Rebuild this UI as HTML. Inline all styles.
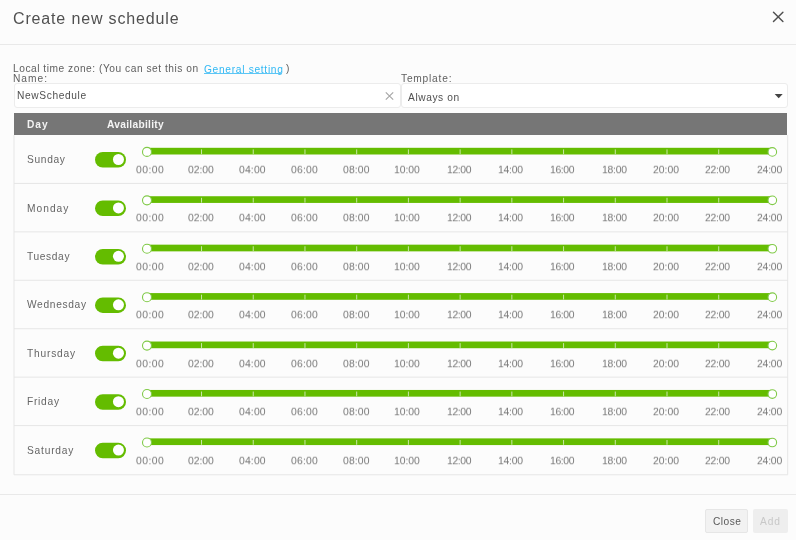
<!DOCTYPE html><html><head><meta charset="utf-8"><style>
*{box-sizing:border-box;margin:0;padding:0}
html,body{width:796px;height:540px;overflow:hidden;background:#fcfcfc;font-family:"Liberation Sans", sans-serif;}
.a{position:absolute;white-space:nowrap;line-height:20px;will-change:transform}
.hr{position:absolute;left:0;width:796px;height:1px;background:#e9e9e9}
.inp{position:absolute;background:#fff;border:1px solid #ececec;border-radius:3px}
.thead{position:absolute;left:14px;top:113px;width:773px;height:22.2px;background:#767676}
.tl{font-size:10px;color:#777;transform:scale(1.04,0.94);transform-origin:0 0}
.btn{position:absolute;height:23px;border-radius:2px}
svg.g{position:absolute;left:0;top:0}
</style></head><body>
<div class="hr" style="top:44px"></div>
<div class="inp" style="left:13.5px;top:83px;width:387px;height:24.5px"></div>
<div class="inp" style="left:401px;top:83px;width:386.5px;height:24.5px"></div>
<div class="thead"></div>
<div class="hr" style="top:494px"></div>
<div class="btn" style="left:705px;width:43.2px;top:509.3px;height:23.3px;background:#f2f2f2;border:1px solid #e6e6e6"></div>
<div class="btn" style="left:752.5px;width:35.2px;top:509.3px;height:23.3px;background:#eeeeee"></div>
<svg class="g" width="796" height="540" viewBox="0 0 796 540">
<path d="M773.5 12.2L782.9 21.6M782.9 12.2L773.5 21.6" stroke="#505050" stroke-width="1.45" stroke-linecap="round" fill="none"/>
<path d="M385.8 92.3L393.2 99.7M393.2 92.3L385.8 99.7" stroke="#a6a6a6" stroke-width="1.15" fill="none"/>
<path d="M774.7 93.9L782.7 93.9L778.7 98.3Z" fill="#444"/>
<path d="M14.0 135V474.8H787.7V135" stroke="#e6e6e6" stroke-width="1" fill="none"/>
<line x1="14.0" y1="183.43" x2="787.7" y2="183.43" stroke="#e6e6e6" stroke-width="1"/>
<line x1="14.0" y1="231.86" x2="787.7" y2="231.86" stroke="#e6e6e6" stroke-width="1"/>
<line x1="14.0" y1="280.29" x2="787.7" y2="280.29" stroke="#e6e6e6" stroke-width="1"/>
<line x1="14.0" y1="328.72" x2="787.7" y2="328.72" stroke="#e6e6e6" stroke-width="1"/>
<line x1="14.0" y1="377.15" x2="787.7" y2="377.15" stroke="#e6e6e6" stroke-width="1"/>
<line x1="14.0" y1="425.58" x2="787.7" y2="425.58" stroke="#e6e6e6" stroke-width="1"/>
<rect x="95" y="152.10" width="31" height="15.5" rx="7.75" fill="#64bc00"/>
<circle cx="118.45" cy="159.50" r="5.5" fill="#fff"/>
<rect x="146.8" y="147.80" width="625.6" height="6.7" fill="#64bc00"/>
<rect x="201.02" y="149.40" width="1" height="4.8" fill="#c8e6a8"/>
<rect x="252.74" y="149.40" width="1" height="4.8" fill="#c8e6a8"/>
<rect x="304.46" y="149.40" width="1" height="4.8" fill="#c8e6a8"/>
<rect x="356.18" y="149.40" width="1" height="4.8" fill="#c8e6a8"/>
<rect x="407.90" y="149.40" width="1" height="4.8" fill="#c8e6a8"/>
<rect x="459.62" y="149.40" width="1" height="4.8" fill="#c8e6a8"/>
<rect x="511.34" y="149.40" width="1" height="4.8" fill="#c8e6a8"/>
<rect x="563.06" y="149.40" width="1" height="4.8" fill="#c8e6a8"/>
<rect x="614.78" y="149.40" width="1" height="4.8" fill="#c8e6a8"/>
<rect x="666.50" y="149.40" width="1" height="4.8" fill="#c8e6a8"/>
<rect x="718.22" y="149.40" width="1" height="4.8" fill="#c8e6a8"/>
<circle cx="147.0" cy="151.90" r="4.5" fill="#fff" stroke="#80ca48" stroke-width="1.1"/>
<circle cx="772.3" cy="151.90" r="4.3" fill="#fff" stroke="#80ca48" stroke-width="1.1"/>
<rect x="95" y="200.53" width="31" height="15.5" rx="7.75" fill="#64bc00"/>
<circle cx="118.45" cy="207.93" r="5.5" fill="#fff"/>
<rect x="146.8" y="196.23" width="625.6" height="6.7" fill="#64bc00"/>
<rect x="201.02" y="197.83" width="1" height="4.8" fill="#c8e6a8"/>
<rect x="252.74" y="197.83" width="1" height="4.8" fill="#c8e6a8"/>
<rect x="304.46" y="197.83" width="1" height="4.8" fill="#c8e6a8"/>
<rect x="356.18" y="197.83" width="1" height="4.8" fill="#c8e6a8"/>
<rect x="407.90" y="197.83" width="1" height="4.8" fill="#c8e6a8"/>
<rect x="459.62" y="197.83" width="1" height="4.8" fill="#c8e6a8"/>
<rect x="511.34" y="197.83" width="1" height="4.8" fill="#c8e6a8"/>
<rect x="563.06" y="197.83" width="1" height="4.8" fill="#c8e6a8"/>
<rect x="614.78" y="197.83" width="1" height="4.8" fill="#c8e6a8"/>
<rect x="666.50" y="197.83" width="1" height="4.8" fill="#c8e6a8"/>
<rect x="718.22" y="197.83" width="1" height="4.8" fill="#c8e6a8"/>
<circle cx="147.0" cy="200.33" r="4.5" fill="#fff" stroke="#80ca48" stroke-width="1.1"/>
<circle cx="772.3" cy="200.33" r="4.3" fill="#fff" stroke="#80ca48" stroke-width="1.1"/>
<rect x="95" y="248.96" width="31" height="15.5" rx="7.75" fill="#64bc00"/>
<circle cx="118.45" cy="256.36" r="5.5" fill="#fff"/>
<rect x="146.8" y="244.66" width="625.6" height="6.7" fill="#64bc00"/>
<rect x="201.02" y="246.26" width="1" height="4.8" fill="#c8e6a8"/>
<rect x="252.74" y="246.26" width="1" height="4.8" fill="#c8e6a8"/>
<rect x="304.46" y="246.26" width="1" height="4.8" fill="#c8e6a8"/>
<rect x="356.18" y="246.26" width="1" height="4.8" fill="#c8e6a8"/>
<rect x="407.90" y="246.26" width="1" height="4.8" fill="#c8e6a8"/>
<rect x="459.62" y="246.26" width="1" height="4.8" fill="#c8e6a8"/>
<rect x="511.34" y="246.26" width="1" height="4.8" fill="#c8e6a8"/>
<rect x="563.06" y="246.26" width="1" height="4.8" fill="#c8e6a8"/>
<rect x="614.78" y="246.26" width="1" height="4.8" fill="#c8e6a8"/>
<rect x="666.50" y="246.26" width="1" height="4.8" fill="#c8e6a8"/>
<rect x="718.22" y="246.26" width="1" height="4.8" fill="#c8e6a8"/>
<circle cx="147.0" cy="248.76" r="4.5" fill="#fff" stroke="#80ca48" stroke-width="1.1"/>
<circle cx="772.3" cy="248.76" r="4.3" fill="#fff" stroke="#80ca48" stroke-width="1.1"/>
<rect x="95" y="297.39" width="31" height="15.5" rx="7.75" fill="#64bc00"/>
<circle cx="118.45" cy="304.79" r="5.5" fill="#fff"/>
<rect x="146.8" y="293.09" width="625.6" height="6.7" fill="#64bc00"/>
<rect x="201.02" y="294.69" width="1" height="4.8" fill="#c8e6a8"/>
<rect x="252.74" y="294.69" width="1" height="4.8" fill="#c8e6a8"/>
<rect x="304.46" y="294.69" width="1" height="4.8" fill="#c8e6a8"/>
<rect x="356.18" y="294.69" width="1" height="4.8" fill="#c8e6a8"/>
<rect x="407.90" y="294.69" width="1" height="4.8" fill="#c8e6a8"/>
<rect x="459.62" y="294.69" width="1" height="4.8" fill="#c8e6a8"/>
<rect x="511.34" y="294.69" width="1" height="4.8" fill="#c8e6a8"/>
<rect x="563.06" y="294.69" width="1" height="4.8" fill="#c8e6a8"/>
<rect x="614.78" y="294.69" width="1" height="4.8" fill="#c8e6a8"/>
<rect x="666.50" y="294.69" width="1" height="4.8" fill="#c8e6a8"/>
<rect x="718.22" y="294.69" width="1" height="4.8" fill="#c8e6a8"/>
<circle cx="147.0" cy="297.19" r="4.5" fill="#fff" stroke="#80ca48" stroke-width="1.1"/>
<circle cx="772.3" cy="297.19" r="4.3" fill="#fff" stroke="#80ca48" stroke-width="1.1"/>
<rect x="95" y="345.82" width="31" height="15.5" rx="7.75" fill="#64bc00"/>
<circle cx="118.45" cy="353.22" r="5.5" fill="#fff"/>
<rect x="146.8" y="341.52" width="625.6" height="6.7" fill="#64bc00"/>
<rect x="201.02" y="343.12" width="1" height="4.8" fill="#c8e6a8"/>
<rect x="252.74" y="343.12" width="1" height="4.8" fill="#c8e6a8"/>
<rect x="304.46" y="343.12" width="1" height="4.8" fill="#c8e6a8"/>
<rect x="356.18" y="343.12" width="1" height="4.8" fill="#c8e6a8"/>
<rect x="407.90" y="343.12" width="1" height="4.8" fill="#c8e6a8"/>
<rect x="459.62" y="343.12" width="1" height="4.8" fill="#c8e6a8"/>
<rect x="511.34" y="343.12" width="1" height="4.8" fill="#c8e6a8"/>
<rect x="563.06" y="343.12" width="1" height="4.8" fill="#c8e6a8"/>
<rect x="614.78" y="343.12" width="1" height="4.8" fill="#c8e6a8"/>
<rect x="666.50" y="343.12" width="1" height="4.8" fill="#c8e6a8"/>
<rect x="718.22" y="343.12" width="1" height="4.8" fill="#c8e6a8"/>
<circle cx="147.0" cy="345.62" r="4.5" fill="#fff" stroke="#80ca48" stroke-width="1.1"/>
<circle cx="772.3" cy="345.62" r="4.3" fill="#fff" stroke="#80ca48" stroke-width="1.1"/>
<rect x="95" y="394.25" width="31" height="15.5" rx="7.75" fill="#64bc00"/>
<circle cx="118.45" cy="401.65" r="5.5" fill="#fff"/>
<rect x="146.8" y="389.95" width="625.6" height="6.7" fill="#64bc00"/>
<rect x="201.02" y="391.55" width="1" height="4.8" fill="#c8e6a8"/>
<rect x="252.74" y="391.55" width="1" height="4.8" fill="#c8e6a8"/>
<rect x="304.46" y="391.55" width="1" height="4.8" fill="#c8e6a8"/>
<rect x="356.18" y="391.55" width="1" height="4.8" fill="#c8e6a8"/>
<rect x="407.90" y="391.55" width="1" height="4.8" fill="#c8e6a8"/>
<rect x="459.62" y="391.55" width="1" height="4.8" fill="#c8e6a8"/>
<rect x="511.34" y="391.55" width="1" height="4.8" fill="#c8e6a8"/>
<rect x="563.06" y="391.55" width="1" height="4.8" fill="#c8e6a8"/>
<rect x="614.78" y="391.55" width="1" height="4.8" fill="#c8e6a8"/>
<rect x="666.50" y="391.55" width="1" height="4.8" fill="#c8e6a8"/>
<rect x="718.22" y="391.55" width="1" height="4.8" fill="#c8e6a8"/>
<circle cx="147.0" cy="394.05" r="4.5" fill="#fff" stroke="#80ca48" stroke-width="1.1"/>
<circle cx="772.3" cy="394.05" r="4.3" fill="#fff" stroke="#80ca48" stroke-width="1.1"/>
<rect x="95" y="442.68" width="31" height="15.5" rx="7.75" fill="#64bc00"/>
<circle cx="118.45" cy="450.08" r="5.5" fill="#fff"/>
<rect x="146.8" y="438.38" width="625.6" height="6.7" fill="#64bc00"/>
<rect x="201.02" y="439.98" width="1" height="4.8" fill="#c8e6a8"/>
<rect x="252.74" y="439.98" width="1" height="4.8" fill="#c8e6a8"/>
<rect x="304.46" y="439.98" width="1" height="4.8" fill="#c8e6a8"/>
<rect x="356.18" y="439.98" width="1" height="4.8" fill="#c8e6a8"/>
<rect x="407.90" y="439.98" width="1" height="4.8" fill="#c8e6a8"/>
<rect x="459.62" y="439.98" width="1" height="4.8" fill="#c8e6a8"/>
<rect x="511.34" y="439.98" width="1" height="4.8" fill="#c8e6a8"/>
<rect x="563.06" y="439.98" width="1" height="4.8" fill="#c8e6a8"/>
<rect x="614.78" y="439.98" width="1" height="4.8" fill="#c8e6a8"/>
<rect x="666.50" y="439.98" width="1" height="4.8" fill="#c8e6a8"/>
<rect x="718.22" y="439.98" width="1" height="4.8" fill="#c8e6a8"/>
<circle cx="147.0" cy="442.48" r="4.5" fill="#fff" stroke="#80ca48" stroke-width="1.1"/>
<circle cx="772.3" cy="442.48" r="4.3" fill="#fff" stroke="#80ca48" stroke-width="1.1"/>
</svg>
<div class="a" style="left:12.8px;top:9.4px;font-size:16px;letter-spacing:0.85px;color:#505050;font-weight:400;">Create new schedule</div>
<div class="a" style="left:13.1px;top:59px;font-size:10.2px;letter-spacing:0.53px;color:#606060;font-weight:400;">Local time zone: (You can set this on</div>
<div class="a" style="left:203.7px;top:59.7px;font-size:10.2px;letter-spacing:0.7px;color:#30b8f4;font-weight:400;">General setting</div>
<div style="position:absolute;left:203.7px;top:72.6px;width:78.8px;height:1.2px;background:#5cc6f5"></div>
<div class="a" style="left:286.2px;top:59px;font-size:10.2px;letter-spacing:0px;color:#606060;font-weight:400;">)</div>
<div class="a" style="left:13.2px;top:68.5px;font-size:10.2px;letter-spacing:1.0px;color:#606060;font-weight:400;">Name:</div>
<div class="a" style="left:401.2px;top:69px;font-size:10.2px;letter-spacing:0.79px;color:#606060;font-weight:400;">Template:</div>
<div class="a" style="left:17.2px;top:85.5px;font-size:10.2px;letter-spacing:0.63px;color:#505050;font-weight:400;">NewSchedule</div>
<div class="a" style="left:408.3px;top:88px;font-size:10.2px;letter-spacing:0.59px;color:#505050;font-weight:400;">Always on</div>
<div class="a" style="left:26.8px;top:115.3px;font-size:10.2px;letter-spacing:1.0px;color:#f2f2f2;font-weight:700;">Day</div>
<div class="a" style="left:107.1px;top:115.3px;font-size:10.2px;letter-spacing:0.3px;color:#f4f4f4;font-weight:700;">Availability</div>
<div class="a" style="left:27.0px;top:150.1px;font-size:10.2px;letter-spacing:0.68px;color:#666;font-weight:400;">Sunday</div>
<div class="a tl" style="left:135.5px;letter-spacing:0.41px;top:161.00px">00:00</div>
<div class="a tl" style="left:188px;letter-spacing:-0.07px;top:161.00px">02:00</div>
<div class="a tl" style="left:239.3px;letter-spacing:0.14px;top:161.00px">04:00</div>
<div class="a tl" style="left:291.1px;letter-spacing:0.17px;top:161.00px">06:00</div>
<div class="a tl" style="left:342.9px;letter-spacing:0.12px;top:161.00px">08:00</div>
<div class="a tl" style="left:394px;letter-spacing:-0.07px;top:161.00px">10:00</div>
<div class="a tl" style="left:446.6px;letter-spacing:-0.38px;top:161.00px">12:00</div>
<div class="a tl" style="left:498.1px;letter-spacing:-0.26px;top:161.00px">14:00</div>
<div class="a tl" style="left:550.1px;letter-spacing:-0.38px;top:161.00px">16:00</div>
<div class="a tl" style="left:601.5px;letter-spacing:-0.22px;top:161.00px">18:00</div>
<div class="a tl" style="left:652.9px;letter-spacing:-0.02px;top:161.00px">20:00</div>
<div class="a tl" style="left:705px;letter-spacing:-0.24px;top:161.00px">22:00</div>
<div class="a tl" style="left:756.8px;letter-spacing:-0.19px;top:161.00px">24:00</div>
<div class="a" style="left:26.9px;top:198.53px;font-size:10.2px;letter-spacing:1.02px;color:#666;font-weight:400;">Monday</div>
<div class="a tl" style="left:135.5px;letter-spacing:0.41px;top:209.43px">00:00</div>
<div class="a tl" style="left:188px;letter-spacing:-0.07px;top:209.43px">02:00</div>
<div class="a tl" style="left:239.3px;letter-spacing:0.14px;top:209.43px">04:00</div>
<div class="a tl" style="left:291.1px;letter-spacing:0.17px;top:209.43px">06:00</div>
<div class="a tl" style="left:342.9px;letter-spacing:0.12px;top:209.43px">08:00</div>
<div class="a tl" style="left:394px;letter-spacing:-0.07px;top:209.43px">10:00</div>
<div class="a tl" style="left:446.6px;letter-spacing:-0.38px;top:209.43px">12:00</div>
<div class="a tl" style="left:498.1px;letter-spacing:-0.26px;top:209.43px">14:00</div>
<div class="a tl" style="left:550.1px;letter-spacing:-0.38px;top:209.43px">16:00</div>
<div class="a tl" style="left:601.5px;letter-spacing:-0.22px;top:209.43px">18:00</div>
<div class="a tl" style="left:652.9px;letter-spacing:-0.02px;top:209.43px">20:00</div>
<div class="a tl" style="left:705px;letter-spacing:-0.24px;top:209.43px">22:00</div>
<div class="a tl" style="left:756.8px;letter-spacing:-0.19px;top:209.43px">24:00</div>
<div class="a" style="left:26.9px;top:246.96px;font-size:10.2px;letter-spacing:0.63px;color:#666;font-weight:400;">Tuesday</div>
<div class="a tl" style="left:135.5px;letter-spacing:0.41px;top:257.86px">00:00</div>
<div class="a tl" style="left:188px;letter-spacing:-0.07px;top:257.86px">02:00</div>
<div class="a tl" style="left:239.3px;letter-spacing:0.14px;top:257.86px">04:00</div>
<div class="a tl" style="left:291.1px;letter-spacing:0.17px;top:257.86px">06:00</div>
<div class="a tl" style="left:342.9px;letter-spacing:0.12px;top:257.86px">08:00</div>
<div class="a tl" style="left:394px;letter-spacing:-0.07px;top:257.86px">10:00</div>
<div class="a tl" style="left:446.6px;letter-spacing:-0.38px;top:257.86px">12:00</div>
<div class="a tl" style="left:498.1px;letter-spacing:-0.26px;top:257.86px">14:00</div>
<div class="a tl" style="left:550.1px;letter-spacing:-0.38px;top:257.86px">16:00</div>
<div class="a tl" style="left:601.5px;letter-spacing:-0.22px;top:257.86px">18:00</div>
<div class="a tl" style="left:652.9px;letter-spacing:-0.02px;top:257.86px">20:00</div>
<div class="a tl" style="left:705px;letter-spacing:-0.24px;top:257.86px">22:00</div>
<div class="a tl" style="left:756.8px;letter-spacing:-0.19px;top:257.86px">24:00</div>
<div class="a" style="left:27.1px;top:295.39px;font-size:10.2px;letter-spacing:0.675px;color:#666;font-weight:400;">Wednesday</div>
<div class="a tl" style="left:135.5px;letter-spacing:0.41px;top:306.29px">00:00</div>
<div class="a tl" style="left:188px;letter-spacing:-0.07px;top:306.29px">02:00</div>
<div class="a tl" style="left:239.3px;letter-spacing:0.14px;top:306.29px">04:00</div>
<div class="a tl" style="left:291.1px;letter-spacing:0.17px;top:306.29px">06:00</div>
<div class="a tl" style="left:342.9px;letter-spacing:0.12px;top:306.29px">08:00</div>
<div class="a tl" style="left:394px;letter-spacing:-0.07px;top:306.29px">10:00</div>
<div class="a tl" style="left:446.6px;letter-spacing:-0.38px;top:306.29px">12:00</div>
<div class="a tl" style="left:498.1px;letter-spacing:-0.26px;top:306.29px">14:00</div>
<div class="a tl" style="left:550.1px;letter-spacing:-0.38px;top:306.29px">16:00</div>
<div class="a tl" style="left:601.5px;letter-spacing:-0.22px;top:306.29px">18:00</div>
<div class="a tl" style="left:652.9px;letter-spacing:-0.02px;top:306.29px">20:00</div>
<div class="a tl" style="left:705px;letter-spacing:-0.24px;top:306.29px">22:00</div>
<div class="a tl" style="left:756.8px;letter-spacing:-0.19px;top:306.29px">24:00</div>
<div class="a" style="left:26.9px;top:343.82px;font-size:10.2px;letter-spacing:0.81px;color:#666;font-weight:400;">Thursday</div>
<div class="a tl" style="left:135.5px;letter-spacing:0.41px;top:354.72px">00:00</div>
<div class="a tl" style="left:188px;letter-spacing:-0.07px;top:354.72px">02:00</div>
<div class="a tl" style="left:239.3px;letter-spacing:0.14px;top:354.72px">04:00</div>
<div class="a tl" style="left:291.1px;letter-spacing:0.17px;top:354.72px">06:00</div>
<div class="a tl" style="left:342.9px;letter-spacing:0.12px;top:354.72px">08:00</div>
<div class="a tl" style="left:394px;letter-spacing:-0.07px;top:354.72px">10:00</div>
<div class="a tl" style="left:446.6px;letter-spacing:-0.38px;top:354.72px">12:00</div>
<div class="a tl" style="left:498.1px;letter-spacing:-0.26px;top:354.72px">14:00</div>
<div class="a tl" style="left:550.1px;letter-spacing:-0.38px;top:354.72px">16:00</div>
<div class="a tl" style="left:601.5px;letter-spacing:-0.22px;top:354.72px">18:00</div>
<div class="a tl" style="left:652.9px;letter-spacing:-0.02px;top:354.72px">20:00</div>
<div class="a tl" style="left:705px;letter-spacing:-0.24px;top:354.72px">22:00</div>
<div class="a tl" style="left:756.8px;letter-spacing:-0.19px;top:354.72px">24:00</div>
<div class="a" style="left:27.3px;top:392.25px;font-size:10.2px;letter-spacing:0.74px;color:#666;font-weight:400;">Friday</div>
<div class="a tl" style="left:135.5px;letter-spacing:0.41px;top:403.15px">00:00</div>
<div class="a tl" style="left:188px;letter-spacing:-0.07px;top:403.15px">02:00</div>
<div class="a tl" style="left:239.3px;letter-spacing:0.14px;top:403.15px">04:00</div>
<div class="a tl" style="left:291.1px;letter-spacing:0.17px;top:403.15px">06:00</div>
<div class="a tl" style="left:342.9px;letter-spacing:0.12px;top:403.15px">08:00</div>
<div class="a tl" style="left:394px;letter-spacing:-0.07px;top:403.15px">10:00</div>
<div class="a tl" style="left:446.6px;letter-spacing:-0.38px;top:403.15px">12:00</div>
<div class="a tl" style="left:498.1px;letter-spacing:-0.26px;top:403.15px">14:00</div>
<div class="a tl" style="left:550.1px;letter-spacing:-0.38px;top:403.15px">16:00</div>
<div class="a tl" style="left:601.5px;letter-spacing:-0.22px;top:403.15px">18:00</div>
<div class="a tl" style="left:652.9px;letter-spacing:-0.02px;top:403.15px">20:00</div>
<div class="a tl" style="left:705px;letter-spacing:-0.24px;top:403.15px">22:00</div>
<div class="a tl" style="left:756.8px;letter-spacing:-0.19px;top:403.15px">24:00</div>
<div class="a" style="left:27.3px;top:440.68px;font-size:10.2px;letter-spacing:0.8px;color:#666;font-weight:400;">Saturday</div>
<div class="a tl" style="left:135.5px;letter-spacing:0.41px;top:451.58px">00:00</div>
<div class="a tl" style="left:188px;letter-spacing:-0.07px;top:451.58px">02:00</div>
<div class="a tl" style="left:239.3px;letter-spacing:0.14px;top:451.58px">04:00</div>
<div class="a tl" style="left:291.1px;letter-spacing:0.17px;top:451.58px">06:00</div>
<div class="a tl" style="left:342.9px;letter-spacing:0.12px;top:451.58px">08:00</div>
<div class="a tl" style="left:394px;letter-spacing:-0.07px;top:451.58px">10:00</div>
<div class="a tl" style="left:446.6px;letter-spacing:-0.38px;top:451.58px">12:00</div>
<div class="a tl" style="left:498.1px;letter-spacing:-0.26px;top:451.58px">14:00</div>
<div class="a tl" style="left:550.1px;letter-spacing:-0.38px;top:451.58px">16:00</div>
<div class="a tl" style="left:601.5px;letter-spacing:-0.22px;top:451.58px">18:00</div>
<div class="a tl" style="left:652.9px;letter-spacing:-0.02px;top:451.58px">20:00</div>
<div class="a tl" style="left:705px;letter-spacing:-0.24px;top:451.58px">22:00</div>
<div class="a tl" style="left:756.8px;letter-spacing:-0.19px;top:451.58px">24:00</div>
<div class="a" style="left:713.4px;top:511.5px;font-size:10.2px;letter-spacing:0.48px;color:#5a5a5a;font-weight:400;">Close</div>
<div class="a" style="left:760px;top:511.5px;font-size:10.2px;letter-spacing:0.95px;color:#c8c8c8;font-weight:400;">Add</div>
</body></html>
